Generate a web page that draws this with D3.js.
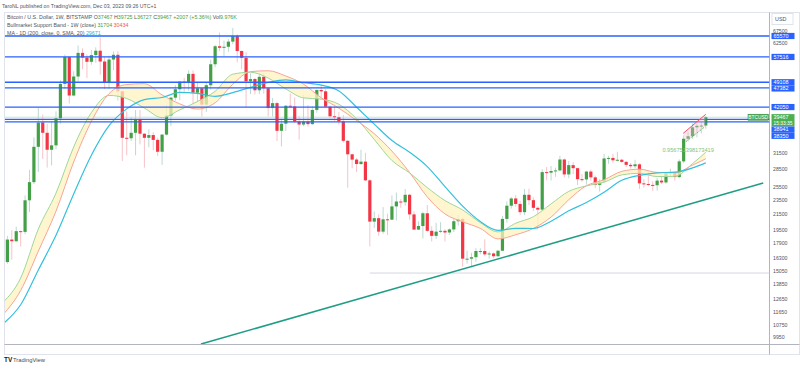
<!DOCTYPE html>
<html>
<head>
<meta charset="UTF-8" />
<title>BTCUSD 1W</title>
<style>
    body {
        margin: 0;
        padding: 0;
        background: #fff;
        font-family: 'Liberation Sans', Arial, sans-serif;
    }

    svg {
        display: block;
    }
</style>
</head>
<body>
<div class="container"></div>

<script src="https://cdnjs.cloudflare.com/ajax/libs/d3/7.8.5/d3.min.js"></script>
<script>
    // weekly candles, BITSTAMP BTCUSD, first bar = week of 16 Nov 2020
    const firstWeek = Date.UTC(2020, 10, 16);

    const open = [
        15960, 18370, 18180, 19360, 19270, 23480, 26300, 32800, 38200, 35800,
        32200, 33100, 39200, 48600, 57500, 45200, 50900, 59000, 57300, 55800,
        58200, 59800, 55900, 49100, 56600, 58300, 46400, 34700, 34600, 35800,
        39000, 35600, 34700, 35300, 34250, 31800, 35400, 39900, 44600, 47000,
        49300, 48900, 51750, 46000, 47300, 42700, 48200, 54950, 61500, 60900,
        61300, 63300, 65500, 59700, 57200, 49400, 50100, 46700, 50800, 47300,
        41800, 43100, 36250, 37900, 42400, 42200, 38400, 37700, 38400, 37800,
        41300, 46800, 46400, 42150, 39700, 39450, 38450, 34050, 31300, 30280,
        29450, 29900, 26600, 20550, 21000, 19300, 20850, 20800, 22600, 23300,
        23200, 24300, 21500, 19550, 19990, 21650, 19400, 18800, 19300, 19400,
        19200, 19570, 20600, 20900, 16300, 16300, 16450, 17100, 17100, 16750,
        16840, 16550, 17130, 20900, 22700, 23750, 22950, 21800, 24300, 23500,
        22400, 22150, 28000, 27900, 28200, 28300, 30300, 27600, 29250, 28700,
        26800, 26750, 28100, 27100, 25850, 26350, 30500, 30600, 30150, 30250,
        29850, 29300, 29050, 29400, 26100, 26000, 25850, 25800, 26550, 26250,
        27950, 27980, 27150, 29950, 34500, 35050, 37050, 37400, 37467
    ];
    const high = [
        18800, 19480, 19920, 19420, 24200, 28400, 34800, 41950, 40100, 37850,
        38500, 40950, 49700, 58350, 57500, 52600, 61800, 60700, 58400, 60100,
        61100, 64900, 57500, 58000, 59500, 59600, 46600, 40900, 39500, 41300,
        41300, 35700, 36600, 35950, 34700, 35500, 42600, 44800, 48200, 49400,
        50500, 52900, 52900, 48900, 47400, 49000, 56600, 62000, 67000, 63700,
        64300, 69000, 66300, 59900, 59200, 51900, 50500, 52000, 52100, 47500,
        44500, 43500, 38900, 42600, 45800, 44700, 39800, 45400, 42600, 42300,
        46900, 48200, 47000, 42400, 42900, 40800, 40000, 34250, 31400, 30600,
        32200, 31600, 26800, 21900, 21500, 22500, 21600, 24200, 24650, 23650,
        25200, 24450, 21900, 20580, 21850, 22800, 19950, 20400, 20480, 19600,
        19700, 21100, 21450, 21000, 17150, 16900, 17400, 17400, 18400, 17050,
        16950, 17200, 21300, 23300, 23950, 24250, 23400, 25200, 25250, 23900,
        22600, 28500, 28900, 29100, 28800, 31000, 30500, 30000, 29800, 28800,
        27650, 28200, 28450, 27400, 26800, 31400, 31000, 31400, 31800, 30450,
        30050, 29650, 30250, 29600, 26800, 28150, 26450, 27000, 27450, 27350,
        28600, 28000, 30300, 35200, 35950, 37950, 37950, 38450, 39725
    ];
    const low = [
        15800, 16200, 18100, 17600, 19000, 21800, 26000, 28000, 30400, 28800,
        29200, 32300, 37900, 47100, 43000, 44950, 49300, 53300, 50400, 54800,
        55500, 51500, 47000, 47100, 53000, 43800, 30000, 31100, 34000, 31100,
        33300, 28800, 32700, 32100, 31000, 29300, 35200, 37400, 43800, 43900,
        46300, 46600, 42800, 43300, 39600, 40800, 46900, 53900, 59700, 57800,
        59400, 62300, 55600, 53300, 42000, 45600, 45500, 45600, 45700, 39650,
        39600, 34000, 32900, 36200, 41700, 38000, 34300, 37300, 37200, 37600,
        40600, 44300, 41900, 39200, 38600, 37700, 33700, 25400, 28700, 28000,
        29300, 26500, 17600, 19750, 18800, 19050, 18900, 20750, 20700, 22400,
        22700, 20800, 19500, 19500, 18500, 19300, 18150, 18450, 19150, 18150,
        18900, 19250, 20050, 15500, 15800, 15450, 16000, 16750, 16550, 16300,
        16350, 16500, 17100, 20400, 22300, 22550, 21400, 21400, 22800, 21950,
        19600, 21900, 26600, 26550, 27200, 28200, 27100, 26950, 27650, 25800,
        26350, 25900, 26550, 25350, 24800, 26250, 29500, 29700, 29950, 29650,
        28900, 28600, 28700, 25200, 25400, 25650, 24900, 24950, 26000, 26050,
        27200, 26550, 26950, 29650, 33950, 34500, 34800, 35650, 36727
    ];
    const close = [
        18370, 18180, 19360, 19270, 23480, 26300, 32800, 38150, 35800, 32200,
        33100, 39200, 48600, 57500, 45200, 50900, 59000, 57300, 55800, 58200,
        59800, 55900, 49100, 56600, 58300, 46400, 34700, 34600, 35800, 39000,
        35600, 34700, 35300, 34250, 31800, 35400, 39900, 44600, 47000, 49300,
        48900, 51750, 46000, 47300, 42700, 48200, 54950, 61500, 60900, 61300,
        63300, 65500, 59700, 57200, 49400, 50100, 46700, 50800, 47300, 41800,
        43100, 36250, 37900, 42400, 42200, 38400, 37700, 38400, 37800, 41300,
        46800, 46400, 42150, 39700, 39450, 38450, 34050, 31300, 30280, 29450,
        29900, 26600, 20550, 21000, 19300, 20850, 20800, 22600, 23300, 23200,
        24300, 21500, 19550, 19990, 21650, 19400, 18800, 19300, 19400, 19200,
        19570, 20600, 20900, 16300, 16300, 16450, 17100, 17100, 16750, 16840,
        16550, 17130, 20900, 22700, 23750, 22950, 21800, 24300, 23500, 22400,
        22150, 28000, 27900, 28200, 28300, 30300, 27600, 29250, 28700, 26800,
        26750, 28100, 27100, 25850, 26350, 30500, 30600, 30150, 30250, 29850,
        29300, 29050, 29400, 26100, 26000, 25850, 25800, 26550, 26250, 27950,
        27980, 27150, 29950, 34500, 35050, 37050, 37400, 37460, 39467
    ];
    const volume = '9.976K';

    // indicator values, read every 4th bar (bar index from firstWeek)
    const indBars = [-1, 3, 7, 11, 15, 19, 23, 27, 31, 35, 39, 43, 47, 51, 55, 59, 63, 67, 71, 75,
        79, 83, 87, 91, 95, 99, 103, 107, 111, 115, 119, 123, 127, 131, 135, 139, 143, 147, 151, 155, 158];
    const ema21 = [12400, 14440, 19618, 24560, 32772, 40615, 45223, 44365, 41770, 39357, 41319, 43547, 46409,
        51643, 52280, 50418, 47086, 44531, 44182, 42790, 39080, 34338, 30109, 27859, 25416, 23440, 22102,
        20412, 19274, 20344, 21186, 22954, 24825, 25692, 26289, 27521, 27781, 27236, 27271, 29525, 31704];
    const sma20 = [11472, 13358, 17082, 21937, 29831, 38436, 45747, 48410, 48650, 45378, 42903, 41530, 43198,
        48493, 52475, 52765, 51050, 48518, 44583, 41750, 38674, 35594, 31937, 27937, 23979, 21560, 20526,
        19696, 18444, 18930, 19695, 21139, 23564, 25718, 26693, 28135, 28515, 27953, 27900, 29238, 30434];
    const ma200d = [10842, 12220, 15191, 18864, 24433, 31115, 37440, 41575, 44073, 44645, 46091, 45796, 44977,
        46034, 47548, 49030, 49848, 48988, 48214, 46514, 42017, 37790, 34110, 31705, 28986, 25572, 22630,
        20554, 19455, 19696, 19685, 20601, 21985, 23163, 24694, 26607, 27448, 27884, 27993, 28746, 29671];

    // drawings
    const levels = [65570, 57516, 49108, 47382, 42050, 38941, 38350];
    const supportBars = [43.8, 171];
    const supportPrices = [9560, 26160];
    const floorBar = 82;
    const floorPrice = 14900;
    const wedgeTopBars = [152.9, 158];
    const wedgeTopPrices = [35690, 40190];
    const wedgeLowBars = [153.5, 157.8];
    const wedgeLowPrices = [33860, 37190];
    const ratioText = '0.956751398173419';

    const priceTicks = [67500, 62500, 31500, 28500, 25500, 23500, 21500, 19500, 17900, 16300, 15050,
        13850, 12650, 11650, 10750, 9950];

    const upColor = '#43a047', downColor = '#f23645';
    const upWick = '#bcd9d3', downWick = '#f7c3c8';
    const levelColor = '#2962ff';
    const textGrey = '#50535e';

    const W = 800, H = 370;
    const plot = { left: 5, right: 769.5, top: 12.5, bottom: 344 };

    const svg = d3.select('.container').append('svg')
        .attr('width', W)
        .attr('height', H)
        .style('font-family', "'Liberation Sans', Arial, sans-serif");

    const barDate = i => new Date(firstWeek + i * 7 * 864e5);

    const x = d3.scaleUtc()
        .domain([barDate(-0.54), barDate(172.42)])
        .range([plot.left, plot.right]);
    const y = d3.scaleLog()
        .domain([9563, 75940])
        .range([plot.bottom, plot.top]);

    const defs = svg.append('defs');
    defs.append('clipPath').attr('id', 'plotClip').append('rect')
        .attr('x', plot.left).attr('y', plot.top)
        .attr('width', plot.right - plot.left).attr('height', plot.bottom - plot.top);
    defs.append('clipPath').attr('id', 'timeClip').append('rect')
        .attr('x', plot.left).attr('y', plot.bottom)
        .attr('width', plot.right - plot.left).attr('height', 12);

    // frame
    svg.append('rect')
        .attr('x', 4.5).attr('y', plot.top).attr('width', 795).attr('height', 342)
        .attr('fill', 'none').attr('stroke', '#e0e3eb');
    svg.append('line')
        .attr('x1', plot.right).attr('x2', plot.right).attr('y1', plot.top).attr('y2', 354.5)
        .attr('stroke', '#b2b5be');
    svg.append('line')
        .attr('x1', 4.5).attr('x2', 799.5).attr('y1', plot.bottom + 0.5).attr('y2', plot.bottom + 0.5)
        .attr('stroke', '#b2b5be');

    const chart = svg.append('g').attr('clip-path', 'url(#plotClip)');

    // price line of last close
    chart.append('line')
        .attr('x1', plot.left).attr('x2', plot.right)
        .attr('y1', y(close[close.length - 1])).attr('y2', y(close[close.length - 1]))
        .attr('stroke', '#c8e6c9').attr('stroke-width', 1);

    // candles
    const bars = d3.range(close.length).map(i => ({ i, o: open[i], h: high[i], l: low[i], c: close[i] }));
    const isUp = d => d.c >= d.o;

    chart.append('g').selectAll('line')
        .data(bars)
        .join('line')
        .attr('x1', d => x(barDate(d.i)))
        .attr('x2', d => x(barDate(d.i)))
        .attr('y1', d => y(d.h))
        .attr('y2', d => y(d.l))
        .attr('stroke', d => isUp(d) ? upWick : downWick)
        .attr('stroke-width', 1);

    chart.append('g').selectAll('rect')
        .data(bars)
        .join('rect')
        .attr('x', d => x(barDate(d.i)) - 1.6)
        .attr('width', 3.2)
        .attr('y', d => y(Math.max(d.o, d.c)))
        .attr('height', d => Math.max(1, Math.abs(y(d.o) - y(d.c))))
        .attr('fill', d => isUp(d) ? upColor : downColor);

    // bull market support band
    const band = indBars.map((b, k) => ({ b, ema: ema21[k], sma: sma20[k], ma: ma200d[k] }));
    const bx = d => x(barDate(d.b));

    chart.append('path')
        .datum(band)
        .attr('d', d3.area().x(bx).y0(d => y(d.sma)).y1(d => y(d.ema)).curve(d3.curveMonotoneX))
        .attr('fill', '#fff3bf')
        .attr('fill-opacity', 0.75);

    chart.append('path')
        .datum(band)
        .attr('d', d3.line().x(bx).y(d => y(d.ema)).curve(d3.curveMonotoneX))
        .attr('fill', 'none').attr('stroke', '#9fd69a').attr('stroke-width', 1);

    chart.append('path')
        .datum(band)
        .attr('d', d3.line().x(bx).y(d => y(d.sma)).curve(d3.curveMonotoneX))
        .attr('fill', 'none').attr('stroke', '#f6a496').attr('stroke-width', 1);

    chart.append('path')
        .datum(band)
        .attr('d', d3.line().x(bx).y(d => y(d.ma)).curve(d3.curveMonotoneX))
        .attr('fill', 'none').attr('stroke', '#35c0de').attr('stroke-width', 1.2);

    // horizontal levels
    chart.append('g').selectAll('line')
        .data(levels)
        .join('line')
        .attr('x1', plot.left).attr('x2', plot.right)
        .attr('y1', d => y(d)).attr('y2', d => y(d))
        .attr('stroke', levelColor).attr('stroke-width', 1.3);

    chart.append('line')
        .attr('x1', x(barDate(floorBar))).attr('x2', plot.right)
        .attr('y1', y(floorPrice)).attr('y2', y(floorPrice))
        .attr('stroke', '#d6d8de').attr('stroke-width', 1);

    // rising support trend line
    chart.append('line')
        .attr('x1', x(barDate(supportBars[0]))).attr('y1', y(supportPrices[0]))
        .attr('x2', x(barDate(supportBars[1]))).attr('y2', y(supportPrices[1]))
        .attr('stroke', '#1e9e86').attr('stroke-width', 1.5);

    // small wedge at the end
    const wedge = [
        [wedgeTopBars[0], wedgeTopPrices[0]], [wedgeTopBars[1], wedgeTopPrices[1]],
        [wedgeLowBars[1], wedgeLowPrices[1]], [wedgeLowBars[0], wedgeLowPrices[0]]
    ];
    chart.append('path')
        .attr('d', d3.line().x(d => x(barDate(d[0]))).y(d => y(d[1]))(wedge) + 'Z')
        .attr('fill', '#f8bbd0').attr('fill-opacity', 0.35);
    chart.append('line')
        .attr('x1', x(barDate(wedgeTopBars[0]))).attr('y1', y(wedgeTopPrices[0]))
        .attr('x2', x(barDate(wedgeTopBars[1]))).attr('y2', y(wedgeTopPrices[1]))
        .attr('stroke', '#f0546a').attr('stroke-width', 1);
    chart.append('line')
        .attr('x1', x(barDate(wedgeLowBars[0]))).attr('y1', y(wedgeLowPrices[0]))
        .attr('x2', x(barDate(wedgeLowBars[1]))).attr('y2', y(wedgeLowPrices[1]))
        .attr('stroke', '#66bb6a').attr('stroke-width', 1).attr('stroke-dasharray', '2,1.5');
    svg.append('text')
        .attr('x', x(barDate(148.2))).attr('y', 152)
        .attr('font-size', 5.6).attr('fill', '#7cc47f')
        .text(ratioText);

    // time axis
    const monthStarts = d3.utcMonth.every(2).range(new Date(Date.UTC(2020, 11, 1)), new Date(Date.UTC(2024, 3, 1)));
    const tickDates = monthStarts.map(m => d3.utcMonday.ceil(m));
    const xAxis = d3.axisBottom(x)
        .tickValues(tickDates)
        .tickSize(0)
        .tickPadding(0)
        .tickFormat(d => d.getUTCMonth() === 0 ? d3.utcFormat('%Y')(d) : d3.utcFormat('%b')(d));
    const gx = svg.append('g')
        .attr('transform', `translate(0,${plot.bottom + 2})`)
        .attr('clip-path', 'url(#timeClip)')
        .call(xAxis);
    gx.select('.domain').remove();
    gx.selectAll('text')
        .attr('font-size', 5.4)
        .attr('fill', textGrey)
        .attr('font-family', "'Liberation Sans', Arial, sans-serif");

    // price axis
    const yAxis = d3.axisRight(y)
        .tickValues(priceTicks)
        .tickSize(0)
        .tickPadding(3.5)
        .tickFormat(d3.format('d'));
    const gy = svg.append('g')
        .attr('transform', `translate(${plot.right},0)`)
        .call(yAxis);
    gy.select('.domain').remove();
    gy.selectAll('text')
        .attr('font-size', 5.2)
        .attr('dy', '0.2em')
        .attr('fill', textGrey)
        .attr('font-family', "'Liberation Sans', Arial, sans-serif");

    // price labels, pushed down when they collide
    const lastClose = close[close.length - 1];
    const labels = levels.map(v => ({ v, rows: [String(v)], fill: levelColor, center: y(v) }))
        .concat([{ v: lastClose, rows: [String(lastClose), '15:33:35'], fill: '#4caf50', center: y(lastClose) }])
        .sort((a, b) => a.center - b.center);
    const rowH = 6.2;
    let lastBottom = -Infinity;
    labels.forEach(l => {
        l.top = Math.max(l.center - rowH / 2, lastBottom);
        lastBottom = l.top + rowH * l.rows.length;
    });
    const gl = svg.append('g');
    labels.forEach(l => {
        gl.append('rect')
            .attr('x', plot.right + 2).attr('y', l.top)
            .attr('width', 23).attr('height', rowH * l.rows.length)
            .attr('fill', l.fill);
        l.rows.forEach((r, k) => {
            gl.append('text')
                .attr('x', plot.right + 4).attr('y', l.top + rowH * k + rowH / 2)
                .attr('dy', '0.35em')
                .attr('font-size', k === 0 ? 5.4 : 4.9)
                .attr('fill', '#fff')
                .text(r);
        });
    });

    // symbol tag on the price line
    svg.append('rect')
        .attr('x', 748).attr('y', y(lastClose) - 3)
        .attr('width', 20.5).attr('height', 6)
        .attr('fill', '#4caf50').attr('stroke', '#2e7d32').attr('stroke-width', 0.5);
    svg.append('text')
        .attr('x', 758.2).attr('y', y(lastClose))
        .attr('dy', '0.35em').attr('text-anchor', 'middle')
        .attr('font-size', 4.8).attr('fill', '#fff')
        .text('BTCUSD');

    // currency box
    svg.append('rect')
        .attr('x', 772).attr('y', 13.5).attr('width', 21).attr('height', 11)
        .attr('fill', '#fff').attr('stroke', '#e0e3eb');
    svg.append('text')
        .attr('x', 775).attr('y', 19).attr('dy', '0.35em')
        .attr('font-size', 5.4).attr('fill', textGrey)
        .text('USD');

    // header and legend
    svg.append('text')
        .attr('x', 2).attr('y', 7.8)
        .attr('font-size', 5.2).attr('fill', '#555')
        .text('TaroNL published on TradingView.com, Dec 03, 2023 09:26 UTC+1');

    const n = close.length - 1;
    const chg = close[n] - close[n - 1];
    const green = '#43a047';
    const legend = [
        [['Bitcoin / U.S. Dollar, 1W, BITSTAMP ', textGrey], ['O', textGrey], [open[n], green],
            [' H', textGrey], [high[n], green], [' L', textGrey], [low[n], green],
            [' C', textGrey], [close[n], green],
            [` +${chg} (+${d3.format('.2f')(chg / close[n - 1] * 100)}%)`, green],
            [' Vol', textGrey], [volume, green]],
        [['Bullmarket Support Band - 1W (close) ', textGrey], [ema21[ema21.length - 1], green],
            [' ', textGrey], [sma20[sma20.length - 1], '#f05454']],
        [['MA - 1D (200, close, 0, SMA, 20) ', textGrey], [ma200d[ma200d.length - 1], '#22b5d6']]
    ];
    legend.forEach((parts, k) => {
        const t = svg.append('text')
            .attr('x', 7).attr('y', 19.3 + k * 8)
            .attr('font-size', 5.3);
        parts.forEach(([s, c]) => t.append('tspan').attr('fill', c).text(s));
    });

    // footer logo
    svg.append('text')
        .attr('x', 4).attr('y', 362.3)
        .attr('font-size', 6.5).attr('font-weight', 'bold').attr('fill', '#131722')
        .text('TV');
    svg.append('text')
        .attr('x', 13).attr('y', 362.3)
        .attr('font-size', 5.8).attr('fill', '#4a4a4a')
        .text('TradingView');
</script>
</body>
</html>
